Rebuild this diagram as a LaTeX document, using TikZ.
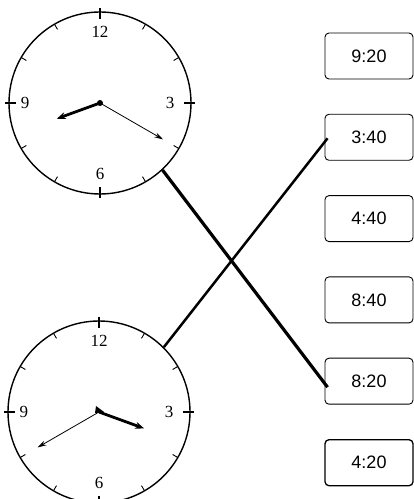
\documentclass[tikz,border=0pt]{standalone}
\usepackage{fontspec}
\setmainfont{Liberation Serif}
\newfontfamily\boxfont{Liberation Sans}
\usetikzlibrary{positioning, calc, arrows.meta}
\tikzset{
	clockface/.style={circle, draw, line width=1.4pt, inner sep=0pt, minimum size=182pt},
	timebox/.style={draw, rounded corners=4pt, line width=0.9pt, minimum width=88pt, minimum height=46pt, font=\boxfont\fontsize{18}{18}\selectfont},
	hourhand/.style={line width=2.8pt, -{Stealth[length=9pt, width=7pt]}},
	minutehand/.style={line width=0.8pt, -{Stealth[length=9pt, width=5pt]}},
	numeral/.style={font=\fontsize{17}{17}\selectfont, inner sep=0pt},
	link/.style={line width=3.2pt}
}

\begin{document}
\begin{tikzpicture}[x=1pt, y=1pt, node distance=34.4pt]
	\useasboundingbox (0,0) rectangle (414,499);
	\clip (0,0) rectangle (414,499);
	\pgfmathsetmacro{\rad}{91}
	\node[clockface] (clockA) at (100,396) {};
	\node[clockface] (clockB) at (99,87) {};
	\foreach \c in {clockA, clockB} {
		\foreach \h in {1,2,4,5,7,8,10,11}
			\draw[line width=0.9pt] (\c.center) ++({90-30*\h}:{\rad-6}) -- ++({90-30*\h}:6);
		\foreach \h in {0,3,6,9}
			\draw[line width=1.2pt] (\c.center) ++({90-30*\h}:{\rad-7}) -- ++({90-30*\h}:11);
		\node[numeral] (\c-12) at ($(\c.center)+(0,71)$) {12};
		\node[numeral] (\c-3) at ($(\c.center)+(70,0)$) {3};
		\node[numeral] (\c-6) at ($(\c.center)+(0,-71)$) {6};
		\node[numeral] (\c-9) at ($(\c.center)+(-75,0)$) {9};
	}
	\draw[hourhand] (clockA.center) -- ++(200:46);
	\draw[minutehand] (clockA.center) -- ++(-30:73);
	\fill (clockA.center) circle (3);
	\draw[hourhand] (clockB.center) -- ++(-20:48);
	\draw[minutehand] (clockB.center) -- ++(210:71);
	\fill (clockB.center) ++(-4,-1) -- ++(1,7) -- ++(8,-6) -- cycle;

	\node[timebox] (t920) at (369,443) {9:20};
	\node[timebox, below=of t920] (t340) {3:40};
	\node[timebox, below=of t340] (t440) {4:40};
	\node[timebox, below=of t440] (t840) {8:40};
	\node[timebox, below=of t840] (t820) {8:20};
	\node[timebox, below=of t820, line width=1.3pt] (t420) {4:20};

	\draw[link] (clockA.-47) -- ($(t820.west)+(3,-6)$);
	\draw[link, line width=2.5pt] (clockB.45) -- ($(t340.west)+(3,-1)$);
\end{tikzpicture}
\end{document}
